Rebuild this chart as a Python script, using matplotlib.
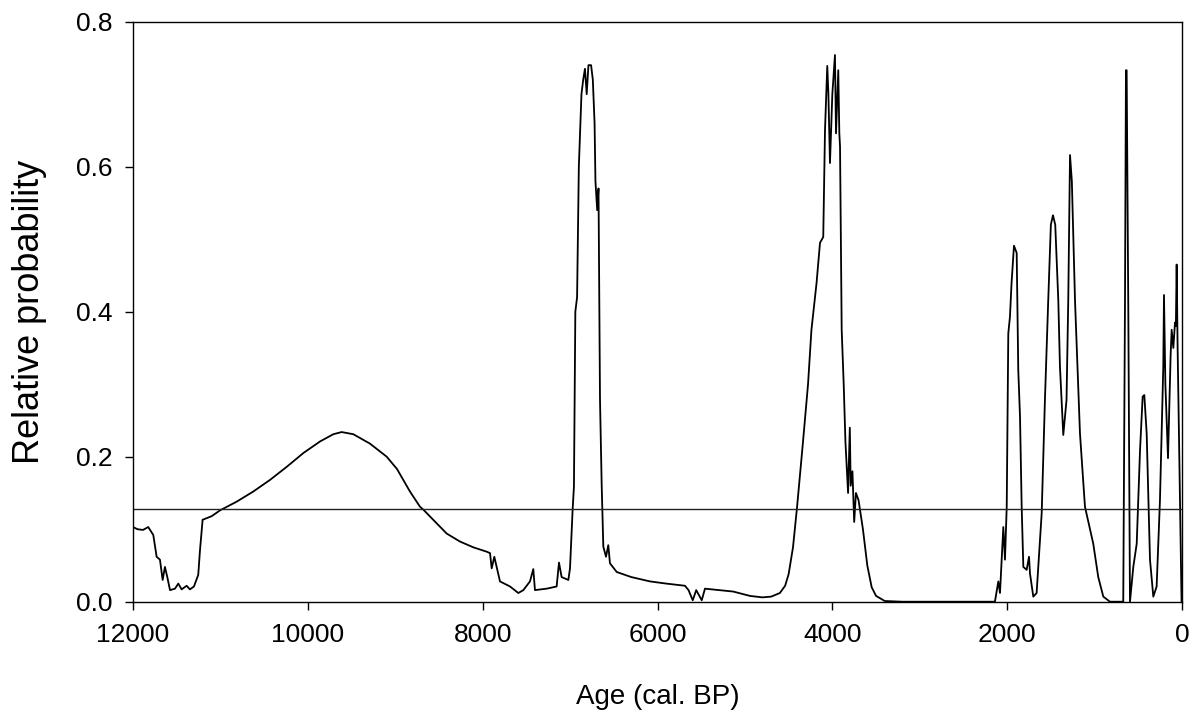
import matplotlib.pyplot as plt

plt.rcParams['font.family'] = ['Liberation Sans', 'DejaVu Sans']

# summed probability curve
age = [12000, 11950, 11886, 11826, 11768, 11730, 11692, 11661, 11635, 11608,
       11577, 11520, 11482, 11444, 11387, 11349, 11303, 11254, 11234, 11204,
       11100, 11005, 10814, 10624, 10433, 10242, 10052, 9861, 9709, 9613,
       9480, 9289, 9098, 8980, 8908, 8832, 8717, 8679, 8565, 8412,
       8260, 8107, 7954, 7916, 7897, 7867, 7840, 7802, 7687, 7592,
       7535, 7459, 7421, 7402, 7268, 7154, 7127, 7097, 7020, 7001,
       6971, 6956, 6940, 6920, 6900, 6870, 6850, 6830, 6810, 6790,
       6760, 6740, 6720, 6710, 6690, 6675, 6658, 6639, 6620, 6589,
       6563, 6544, 6467, 6300, 6086, 5900, 5686, 5645, 5597, 5557,
       5494, 5457, 5300, 5133, 4942, 4800, 4700, 4600, 4540, 4500,
       4450, 4404, 4336, 4278, 4239, 4181, 4141, 4104, 4084, 4058,
       4045, 4027, 4000, 3970, 3958, 3932, 3920, 3912, 3893, 3870,
       3850, 3820, 3800, 3790, 3770, 3750, 3730, 3700, 3650, 3600,
       3550, 3500, 3400, 3200, 2140, 2101, 2082, 2044, 2025, 2005,
       1987, 1968, 1950, 1922, 1891, 1873, 1853, 1834, 1815, 1777,
       1750, 1739, 1701, 1663, 1605, 1568, 1530, 1500, 1476, 1450,
       1415, 1396, 1358, 1321, 1301, 1281, 1260, 1224, 1167, 1110,
       1015, 958, 900, 824, 672, 652, 641, 633, 614, 595,
       557, 518, 480, 450, 431, 404, 366, 328, 290, 252,
       214, 206, 190, 160, 130, 118, 99, 80, 70, 61,
       50, 23, 5]
prob = [0.103, 0.100, 0.099, 0.103, 0.092, 0.062, 0.058, 0.030, 0.048, 0.034,
        0.016, 0.018, 0.025, 0.017, 0.022, 0.017, 0.021, 0.037, 0.071, 0.113,
        0.118, 0.126, 0.138, 0.152, 0.168, 0.186, 0.205, 0.221, 0.231, 0.234,
        0.231, 0.218, 0.200, 0.183, 0.168, 0.152, 0.131, 0.127, 0.113, 0.094,
        0.083, 0.075, 0.069, 0.067, 0.046, 0.062, 0.048, 0.028, 0.021, 0.012,
        0.016, 0.028, 0.045, 0.016, 0.018, 0.021, 0.054, 0.034, 0.030, 0.046,
        0.127, 0.159, 0.400, 0.420, 0.600, 0.700, 0.720, 0.735, 0.700, 0.740,
        0.740, 0.720, 0.660, 0.580, 0.540, 0.570, 0.280, 0.163, 0.076, 0.062,
        0.078, 0.053, 0.041, 0.034, 0.028, 0.025, 0.022, 0.016, 0.002, 0.016,
        0.002, 0.018, 0.016, 0.014, 0.008, 0.006, 0.007, 0.012, 0.022, 0.038,
        0.075, 0.130, 0.220, 0.300, 0.375, 0.439, 0.495, 0.503, 0.650, 0.739,
        0.700, 0.605, 0.700, 0.754, 0.646, 0.733, 0.646, 0.628, 0.375, 0.300,
        0.220, 0.150, 0.240, 0.160, 0.180, 0.110, 0.150, 0.140, 0.100, 0.050,
        0.020, 0.008, 0.001, 0.000, 0.000, 0.028, 0.012, 0.103, 0.058, 0.131,
        0.370, 0.393, 0.439, 0.491, 0.481, 0.320, 0.255, 0.131, 0.048, 0.044,
        0.062, 0.039, 0.007, 0.012, 0.122, 0.278, 0.416, 0.520, 0.533, 0.520,
        0.416, 0.324, 0.230, 0.278, 0.416, 0.616, 0.580, 0.416, 0.232, 0.131,
        0.080, 0.034, 0.007, 0.000, 0.000, 0.416, 0.733, 0.733, 0.400, 0.000,
        0.048, 0.080, 0.209, 0.283, 0.285, 0.232, 0.058, 0.007, 0.021, 0.140,
        0.324, 0.423, 0.300, 0.198, 0.340, 0.375, 0.350, 0.385, 0.380, 0.465,
        0.350, 0.140, 0.000]

threshold = 0.128

fig = plt.figure(figsize=(11.92, 7.22), dpi=100)
ax = fig.add_axes([0.1116, 0.1666, 0.88, 0.8034])

ax.plot(age, prob, color="black", linewidth=1.3)
ax.axhline(threshold, color="#222222", linewidth=1.0)

ax.set_xlim(12000, 0)
ax.set_ylim(0, 0.8)
ax.set_xticks([12000, 10000, 8000, 6000, 4000, 2000, 0])
ax.set_yticks([0.0, 0.2, 0.4, 0.6, 0.8])
ax.set_yticklabels(["0.0", "0.2", "0.4", "0.6", "0.8"])
ax.tick_params(direction="out", length=6, width=1, labelsize=19, pad=9)

for s in ax.spines.values():
    s.set_linewidth(1.0)

ax.set_xlabel("Age (cal. BP)", fontsize=20)
ax.set_ylabel("Relative probability", fontsize=26)
ax.xaxis.set_label_coords(0.5, -0.142)
ax.yaxis.set_label_coords(-0.082, 0.5)

fig.savefig("out.png", dpi=100)
